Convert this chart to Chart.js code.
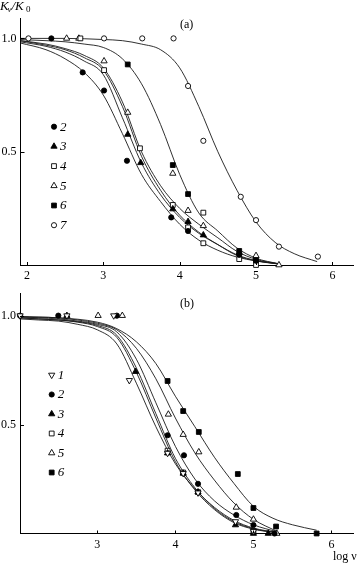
<!DOCTYPE html>
<html>
<head>
<meta charset="utf-8">
<script src="https://cdn.jsdelivr.net/npm/chart.js@4"></script>
<style>
  html, body { margin: 0; padding: 0; background: #fff; }
  #wrap { position: relative; width: 358px; height: 563px; overflow: hidden; }
  canvas { position: absolute; left: 0; }
</style>
</head>
<body>
<div id="wrap">
  <canvas id="chartA" width="358" height="282" style="top:0"></canvas>
  <canvas id="chartB" width="358" height="281" style="top:282px"></canvas>
</div>
<script>
// ---- axis ticks ----
const xTicksA = [2, 3, 4, 5, 6];
const xTicksB = [3, 4, 5, 6];
const yTicks = [0.5, 1.0];

// ---- panel (a): fitted curves ----
const curveXA = [1.91, 2.25, 2.5, 2.75, 3.0, 3.25, 3.5, 3.75, 4.0, 4.25, 4.5, 4.75, 5.0, 5.3];
const curveA2 = [0.98, 0.95, 0.91, 0.85, 0.75, 0.58, 0.40, 0.28, 0.18, 0.11, 0.065, 0.035, 0.018, 0.005];
const curveA3 = [0.985, 0.965, 0.94, 0.90, 0.84, 0.65, 0.45, 0.31, 0.21, 0.14, 0.09, 0.045, 0.02, 0.005];
const curveA4 = [0.99, 0.97, 0.95, 0.915, 0.86, 0.70, 0.48, 0.33, 0.22, 0.145, 0.09, 0.042, 0.018, 0.004];
const curveA5 = [0.99, 0.975, 0.955, 0.925, 0.87, 0.72, 0.50, 0.35, 0.25, 0.18, 0.12, 0.06, 0.025, 0.005];
const curveA6 = [0.995, 0.99, 0.985, 0.975, 0.96, 0.91, 0.80, 0.62, 0.40, 0.23, 0.15, 0.075, 0.03, 0.005];
const curveXA7 = [1.91, 2.5, 3.0, 3.25, 3.5, 3.75, 4.0, 4.25, 4.5, 4.75, 5.0, 5.25, 5.5, 5.8];
const curveA7 = [1.0, 1.0, 0.995, 0.99, 0.975, 0.95, 0.87, 0.70, 0.50, 0.33, 0.19, 0.10, 0.05, 0.015];

// ---- panel (a): measured points [log v, Kv/K0] ----
const pointsA2 = [[2.32, 1.0], [2.73, 0.85], [3.01, 0.77], [3.31, 0.46], [3.89, 0.21], [4.11, 0.15], [4.78, 0.045], [5.0, 0.019]];
const pointsA3 = [[3.32, 0.576], [3.49, 0.451], [3.91, 0.247], [4.11, 0.191], [4.31, 0.132], [4.78, 0.055]];
const pointsA4 = [[2.70, 1.0], [3.01, 0.86], [3.48, 0.515], [3.91, 0.265], [4.11, 0.166], [4.31, 0.231], [4.31, 0.096], [4.78, 0.026], [5.0, 0.0]];
const pointsA5 = [[2.52, 1.0], [2.68, 1.0], [3.01, 0.90], [3.32, 0.673], [3.91, 0.404], [4.11, 0.24], [4.31, 0.173], [5.0, 0.041], [5.30, 0.0]];
const pointsA6 = [[3.32, 0.885], [3.91, 0.441], [4.11, 0.313], [4.78, 0.062], [5.0, 0.019]];
const pointsA7 = [[2.02, 1.0], [3.01, 1.0], [3.51, 1.0], [3.92, 1.0], [4.11, 0.79], [4.31, 0.548], [4.80, 0.301], [5.0, 0.198], [5.30, 0.081], [5.81, 0.037]];

// ---- panel (b): fitted curves ----
const curveXB = [2.01, 2.25, 2.5, 2.75, 3.0, 3.25, 3.5, 3.75, 4.0, 4.25, 4.5, 4.75, 5.0, 5.3];
const curveB1 = [0.985, 0.98, 0.975, 0.96, 0.935, 0.87, 0.69, 0.49, 0.32, 0.205, 0.12, 0.06, 0.025, 0.005];
const curveB2 = [0.995, 0.99, 0.985, 0.975, 0.96, 0.925, 0.80, 0.60, 0.40, 0.25, 0.15, 0.085, 0.04, 0.008];
const curveB3 = [0.99, 0.985, 0.98, 0.97, 0.95, 0.90, 0.74, 0.53, 0.33, 0.20, 0.11, 0.05, 0.02, 0.003];
const curveB4 = [0.99, 0.985, 0.98, 0.972, 0.955, 0.91, 0.76, 0.55, 0.345, 0.21, 0.115, 0.055, 0.022, 0.004];
const curveB5 = [0.995, 0.993, 0.99, 0.98, 0.965, 0.935, 0.85, 0.71, 0.53, 0.37, 0.245, 0.14, 0.065, 0.01];
const curveXB6 = [2.01, 2.5, 3.0, 3.25, 3.5, 3.75, 4.0, 4.25, 4.5, 4.75, 5.0, 5.25, 5.5, 5.81];
const curveB6 = [0.995, 0.99, 0.97, 0.94, 0.88, 0.78, 0.63, 0.49, 0.35, 0.23, 0.125, 0.07, 0.04, 0.015];

// ---- panel (b): measured points ----
const pointsB1 = [[2.01, 1.0], [2.61, 1.0], [3.21, 1.0], [3.41, 0.703], [3.90, 0.369], [4.10, 0.276], [4.29, 0.187], [4.77, 0.055], [5.0, 0.01]];
const pointsB2 = [[2.01, 1.0], [2.50, 1.0], [3.25, 1.0], [3.90, 0.451], [4.11, 0.359], [4.29, 0.228], [4.78, 0.085], [5.0, 0.039], [5.27, 0.0]];
const pointsB3 = [[2.61, 1.0], [3.49, 0.743], [3.90, 0.369], [4.10, 0.276], [4.29, 0.19], [4.77, 0.039], [5.0, 0.0], [5.19, 0.0]];
const pointsB4 = [[3.90, 0.38], [4.10, 0.28], [4.29, 0.19], [5.0, 0.012]];
const pointsB5 = [[3.01, 1.0], [3.32, 1.0], [3.91, 0.547], [4.10, 0.454], [4.30, 0.374], [4.78, 0.12], [5.0, 0.065], [5.30, 0.0]];
const pointsB6 = [[3.90, 0.70], [4.10, 0.562], [4.30, 0.466], [4.80, 0.273], [5.0, 0.117], [5.29, 0.032], [5.81, 0.0]];

// marker look per sample number
const markerStyle = {
  '1': { style: 'triangle', rot: 180, r: 3.6, fill: false },
  '2': { style: 'circle', rot: 0, r: 2.6, fill: true },
  '3': { style: 'triangle', rot: 0, r: 3.6, fill: true },
  '4': { style: 'rect', rot: 0, r: 3.4, fill: false },
  '5': { style: 'triangle', rot: 0, r: 3.6, fill: false },
  '6': { style: 'rect', rot: 0, r: 3.4, fill: true },
  '7': { style: 'circle', rot: 0, r: 2.6, fill: false }
};

const serif = '"Liberation Serif", "DejaVu Serif", serif';

function curveSet(xs, ys) {
  return {
    type: 'line',
    data: xs.map((x, i) => ({ x: x, y: ys[i] })),
    borderColor: '#1a1a1a',
    borderWidth: 0.9,
    pointRadius: 0,
    cubicInterpolationMode: 'monotone',
    fill: false,
    order: 1
  };
}

function pointSet(pts, key) {
  const m = markerStyle[key];
  return {
    type: 'scatter',
    data: pts.map(p => ({ x: p[0], y: p[1] })),
    showLine: false,
    pointStyle: m.style,
    pointRotation: m.rot,
    pointRadius: m.r,
    pointBackgroundColor: m.fill ? '#000' : '#fff',
    pointBorderColor: '#000',
    pointBorderWidth: 0.9,
    clip: false,
    order: 0
  };
}

function drawTicks(chart, xt) {
  const { ctx, chartArea: a, scales: { x, y } } = chart;
  ctx.strokeStyle = '#000';
  ctx.lineWidth = 1;
  ctx.beginPath();
  xt.forEach(v => {
    const px = Math.round(x.getPixelForValue(v)) + 0.5;
    ctx.moveTo(px, a.bottom);
    ctx.lineTo(px, a.bottom - 3);
  });
  yTicks.forEach(v => {
    const py = Math.round(y.getPixelForValue(v)) + 0.5;
    ctx.moveTo(a.left, py);
    ctx.lineTo(a.left + 4, py);
  });
  ctx.stroke();
}

function drawLegend(ctx, keys, x0, y0, step) {
  keys.forEach((k, i) => {
    const m = markerStyle[k];
    const y = y0 + i * step;
    ctx.fillStyle = m.fill ? '#000' : '#fff';
    ctx.strokeStyle = '#000';
    ctx.lineWidth = 0.9;
    Chart.helpers.drawPoint(ctx, { pointStyle: m.style, rotation: m.rot, radius: m.r, borderWidth: 0.9 }, x0, y);
    ctx.fillStyle = '#000';
    ctx.font = 'italic 13px ' + serif;
    ctx.textBaseline = 'middle';
    ctx.textAlign = 'left';
    ctx.fillText(k, x0 + 6, y + 0.5);
  });
}

function axes(xMin, xMax, yMax, xt, yWidth, xHeight) {
  const tickFont = { family: serif, size: 12 };
  return {
    x: {
      type: 'linear', min: xMin, max: xMax,
      grid: { display: false, drawTicks: false, tickLength: 0 },
      border: { display: true, color: '#000', width: 1 },
      ticks: { font: tickFont, color: '#000', padding: 4, maxRotation: 0, autoSkip: false },
      afterBuildTicks: s => { s.ticks = xt.map(v => ({ value: v })); },
      afterFit: s => { s.height = xHeight; }
    },
    y: {
      type: 'linear', min: 0, max: yMax,
      grid: { display: false, drawTicks: false, tickLength: 0 },
      border: { display: true, color: '#000', width: 1 },
      ticks: { font: tickFont, color: '#000', padding: 4, callback: v => Number(v).toFixed(1) },
      afterBuildTicks: s => { s.ticks = yTicks.map(v => ({ value: v })); },
      afterFit: s => { s.width = yWidth; }
    }
  };
}

const commonOpts = {
  responsive: false,
  animation: false,
  events: [],
  plugins: { legend: { display: false }, tooltip: { enabled: false } }
};

// ---- chart (a) ----
new Chart(document.getElementById('chartA'), {
  type: 'scatter',
  data: {
    datasets: [
      pointSet(pointsA2, '2'), pointSet(pointsA3, '3'), pointSet(pointsA4, '4'),
      pointSet(pointsA5, '5'), pointSet(pointsA6, '6'), pointSet(pointsA7, '7'),
      curveSet(curveXA, curveA2), curveSet(curveXA, curveA3), curveSet(curveXA, curveA4),
      curveSet(curveXA, curveA5), curveSet(curveXA, curveA6), curveSet(curveXA7, curveA7)
    ]
  },
  options: Object.assign({}, commonOpts, {
    layout: { padding: { top: 18, right: 0, bottom: 0, left: 0 } },
    scales: axes(1.916, 6.271, 1.09, xTicksA, 20.5, 17)
  }),
  plugins: [{
    id: 'decorA',
    afterDraw(chart) {
      const ctx = chart.ctx;
      ctx.save();
      drawTicks(chart, xTicksA);
      ctx.fillStyle = '#000';
      ctx.textBaseline = 'alphabetic';
      ctx.textAlign = 'left';
      // axis title Kv/K0
      ctx.font = 'italic 13px ' + serif;
      ctx.fillText('K', 0, 9.5);
      ctx.font = 'italic 9px ' + serif;
      ctx.fillText('ν', 7.5, 11.5);
      ctx.font = 'italic 13px ' + serif;
      ctx.fillText('/K', 11.5, 9.5);
      ctx.font = '9px ' + serif;
      ctx.fillText('0', 26, 12);
      ctx.font = '12px ' + serif;
      ctx.fillText('(a)', 180, 28);
      drawLegend(ctx, ['2', '3', '4', '5', '6', '7'], 54, 126.7, 19.7);
      ctx.restore();
    }
  }]
});

// ---- chart (b) ----
new Chart(document.getElementById('chartB'), {
  type: 'scatter',
  data: {
    datasets: [
      pointSet(pointsB1, '1'), pointSet(pointsB2, '2'), pointSet(pointsB3, '3'),
      pointSet(pointsB4, '4'), pointSet(pointsB5, '5'), pointSet(pointsB6, '6'),
      curveSet(curveXB, curveB1), curveSet(curveXB, curveB2), curveSet(curveXB, curveB3),
      curveSet(curveXB, curveB4), curveSet(curveXB, curveB5), curveSet(curveXB6, curveB6)
    ]
  },
  options: Object.assign({}, commonOpts, {
    layout: { padding: { top: 3, right: 0, bottom: 0, left: 0 } },
    scales: axes(2.009, 6.277, 1.103, xTicksB, 20, 29.5)
  }),
  plugins: [{
    id: 'decorB',
    afterDraw(chart) {
      const ctx = chart.ctx;
      ctx.save();
      drawTicks(chart, xTicksB);
      ctx.fillStyle = '#000';
      ctx.textBaseline = 'alphabetic';
      ctx.textAlign = 'left';
      ctx.font = '12px ' + serif;
      ctx.fillText('(b)', 180, 25);
      ctx.fillText('log ν', 333, 278);
      drawLegend(ctx, ['1', '2', '3', '4', '5', '6'], 51.7, 93, 19.5);
      ctx.restore();
    }
  }]
});
</script>
</body>
</html>
